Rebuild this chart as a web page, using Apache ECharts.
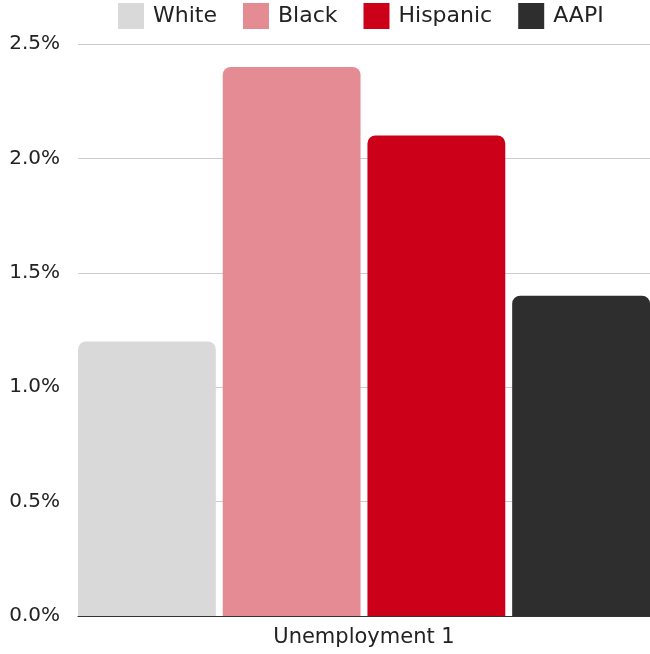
<!DOCTYPE html>
<html>
<head>
<meta charset="utf-8">
<script src="https://cdn.jsdelivr.net/npm/echarts@6/dist/echarts.min.js"></script>
<style>html,body{margin:0;padding:0;background:#fff;}#c{width:650px;height:654px;}</style>
</head>
<body>
<div id="c"></div>
<script>
const categories = ['Unemployment 1'];
const seriesNames = ['White', 'Black', 'Hispanic', 'AAPI'];
const whiteValues = [1.2];
const blackValues = [2.4];
const hispanicValues = [2.1];
const aapiValues = [1.4];
const colors = ['#d9d9d9', '#e58b94', '#cc0019', '#2e2e2e'];
const FONT = 'DejaVu Sans';

const dataSets = [whiteValues, blackValues, hispanicValues, aapiValues];
const chart = echarts.init(document.getElementById('c'));
chart.setOption({
  animation: false,
  textStyle: { fontFamily: FONT },
  legend: {
    top: 3, left: 118, padding: 0,
    itemWidth: 26, itemHeight: 26, itemGap: 26,
    icon: 'rect',
    textStyle: { fontSize: 22, color: '#222', fontFamily: FONT, padding: [0, 0, 0, 4] },
    data: seriesNames
  },
  grid: { left: 78, right: 0, top: 44, bottom: 38 },
  xAxis: {
    type: 'category', data: categories,
    axisLine: { lineStyle: { color: '#333' } },
    axisTick: { show: false },
    axisLabel: { fontSize: 21, color: '#222', margin: 11, fontFamily: FONT }
  },
  yAxis: {
    type: 'value', min: 0, max: 2.5, interval: 0.5,
    axisLabel: { fontSize: 20, color: '#222', margin: 18, fontFamily: FONT,
      formatter: v => v.toFixed(1) + '%' },
    splitLine: { lineStyle: { color: '#cccccc' } },
    axisLine: { show: false }, axisTick: { show: false }
  },
  series: seriesNames.map((n, i) => ({
    name: n, type: 'bar', data: dataSets[i],
    barGap: '5%', barCategoryGap: '0%',
    itemStyle: { color: colors[i], borderRadius: [8, 8, 0, 0] }
  }))
});
</script>
</body>
</html>
